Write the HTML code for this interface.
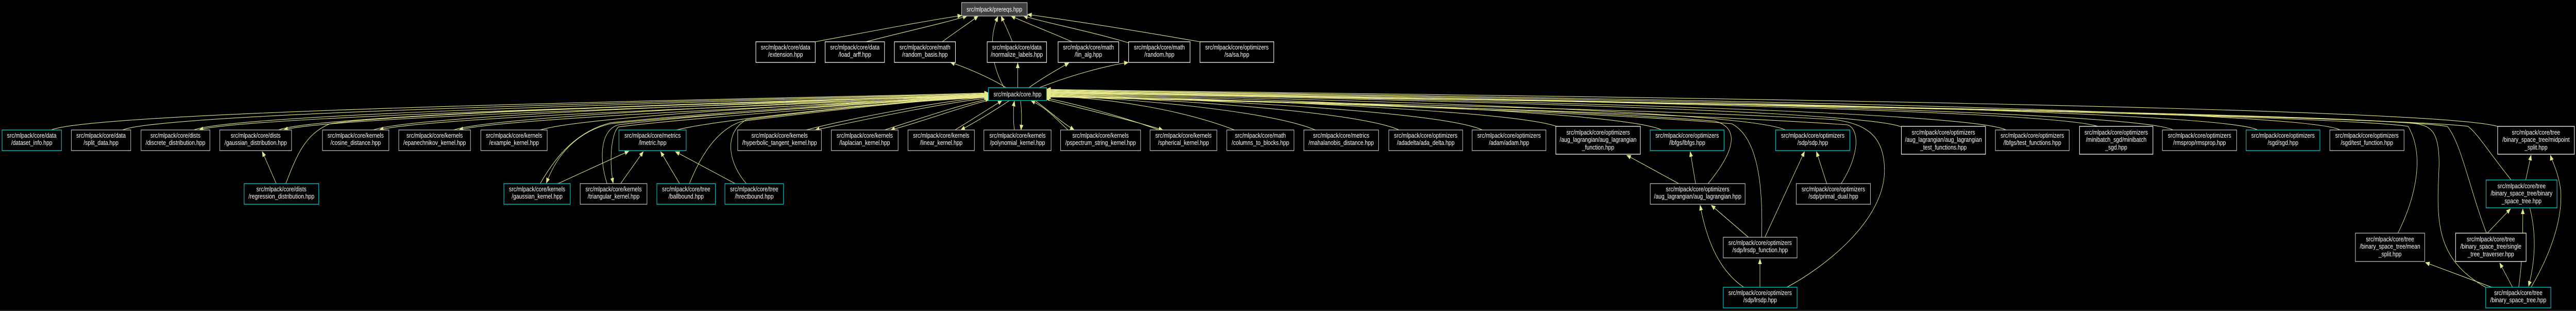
<!DOCTYPE html>
<html><head><meta charset="utf-8">
<style>
html,body{margin:0;padding:0;background:#000;width:100%;height:100%;overflow:hidden;}
svg{display:block;position:absolute;left:0;top:0;width:100vw;height:100vh;}
text{font-family:"Liberation Sans",Arial,sans-serif;font-size:13px;fill:#fff;text-anchor:middle;}
.e{fill:none;stroke:#e6e68c;stroke-width:1.1;}
.w{fill:#000;stroke:#ffffff;stroke-width:1.3;}
.g{fill:#000;stroke:#bfbfbf;stroke-width:1.3;}
.c{fill:#000;stroke:#00b8bd;stroke-width:1.5;}
</style></head>
<body>
<svg viewBox="0 0 6247 603" preserveAspectRatio="none" xmlns="http://www.w3.org/2000/svg">
<defs>
<marker id="a" markerWidth="11" markerHeight="9" refX="10" refY="4.5" orient="auto" markerUnits="userSpaceOnUse">
<path d="M0,0 L11,4.5 L0,9z" fill="#e6e68c"/></marker>
</defs>
<line x1="0" y1="602" x2="6247" y2="602" stroke="#444" stroke-width="1"/>

<path class="e" marker-end="url(#a)" d="M1977,81 C2150,55 2250,40 2332,30"/>
<path class="e" marker-end="url(#a)" d="M2100,81 C2200,60 2290,45 2345,31"/>
<path class="e" marker-end="url(#a)" d="M2285,81 C2320,60 2350,45 2372,31"/>
<path class="e" marker-end="url(#a)" d="M2455,81 C2445,60 2435,45 2428,31"/>
<path class="e" marker-end="url(#a)" d="M2600,81 C2540,60 2490,45 2452,31"/>
<path class="e" marker-end="url(#a)" d="M2737,83 C2640,60 2540,45 2482,31"/>
<path class="e" marker-end="url(#a)" d="M2910,81 C2760,60 2600,40 2492,28"/>
<path class="e" marker-end="url(#a)" d="M2435,170 C2400,120 2400,70 2420,32"/>
<path class="e" marker-end="url(#a)" d="M2440,170 C2400,150 2340,130 2305,121"/>
<path class="e" marker-end="url(#a)" d="M2468,170 L2468,122"/>
<path class="e" marker-end="url(#a)" d="M2495,170 C2530,150 2570,132 2592,122"/>
<path class="e" marker-end="url(#a)" d="M2520,170 C2600,145 2680,128 2736,121"/>

<path class="e" marker-end="url(#a)" d="M124,252 C244,210 2250,186 2397,180"/>
<path class="e" marker-end="url(#a)" d="M297,252 C417,212 2250,187 2397,181"/>
<path class="e" marker-end="url(#a)" d="M470,252 C590,214 2250,188 2397,182"/>
<path class="e" marker-end="url(#a)" d="M2397,184 C2250,192 610,220 483,252"/>
<path class="e" marker-end="url(#a)" d="M675,252 C795,216 2250,189 2397,183"/>
<path class="e" marker-end="url(#a)" d="M2397,185 C2250,193 810,222 688,252"/>
<path class="e" marker-end="url(#a)" d="M905,252 C1025,218 2250,189 2397,183"/>
<path class="e" marker-end="url(#a)" d="M2397,186 C2250,194 1040,224 920,252"/>
<path class="e" marker-end="url(#a)" d="M1100,252 C1220,220 2250,190 2397,184"/>
<path class="e" marker-end="url(#a)" d="M2397,187 C2250,195 1230,226 1113,252"/>
<path class="e" marker-end="url(#a)" d="M1310,252 C1430,222 2250,191 2397,185"/>
<path class="e" marker-end="url(#a)" d="M1640,252 C1760,228 2250,192 2397,186"/>
<path class="e" marker-end="url(#a)" d="M1955,252 C2060,230 2280,196 2398,188"/>
<path class="e" marker-end="url(#a)" d="M2398,190 C2280,200 2080,235 1977,252"/>
<path class="e" marker-end="url(#a)" d="M2145,252 C2230,230 2340,200 2400,192"/>
<path class="e" marker-end="url(#a)" d="M2400,194 C2340,205 2240,235 2160,252"/>
<path class="e" marker-end="url(#a)" d="M2316,252 C2360,230 2400,210 2430,195"/>
<path class="e" marker-end="url(#a)" d="M2448,195 C2410,215 2370,235 2330,252"/>
<path class="e" marker-end="url(#a)" d="M2460,252 C2457,235 2457,210 2460,196"/>
<path class="e" marker-end="url(#a)" d="M2475,196 C2478,215 2478,235 2476,252"/>

<path class="e" marker-end="url(#a)" d="M2590,252 C2560,230 2540,210 2500,195"/>
<path class="e" marker-end="url(#a)" d="M2510,195 C2545,215 2570,235 2605,252"/>
<path class="e" marker-end="url(#a)" d="M2810,252 C2720,225 2600,200 2535,190"/>
<path class="e" marker-end="url(#a)" d="M2538,193 C2620,210 2740,232 2820,252"/>
<path class="e" marker-end="url(#a)" d="M2994,252 C2874,215 2700,190 2538,186"/>
<path class="e" marker-end="url(#a)" d="M3190,252 C3070,212 2700,189 2538,185"/>
<path class="e" marker-end="url(#a)" d="M3393,252 C3273,210 2700,188 2538,184"/>
<path class="e" marker-end="url(#a)" d="M3595,252 C3475,209 2700,187 2538,183"/>
<path class="e" marker-end="url(#a)" d="M3778,246 C3658,208 2700,186 2538,182"/>
<path class="e" marker-end="url(#a)" d="M4030,252 C3910,207 2700,185 2538,181"/>
<path class="e" marker-end="url(#a)" d="M4330,252 C4210,206 2700,184 2538,180"/>
<path class="e" marker-end="url(#a)" d="M4611,246 C4490,205 2700,183 2538,179"/>
<path class="e" marker-end="url(#a)" d="M4865,252 C4745,204 2700,183 2538,178"/>
<path class="e" marker-end="url(#a)" d="M5090,246 C4970,203 2700,182 2538,177"/>
<path class="e" marker-end="url(#a)" d="M5270,252 C5150,202 2700,181 2538,176"/>
<path class="e" marker-end="url(#a)" d="M5475,252 C5355,201 2700,180 2538,175"/>
<path class="e" marker-end="url(#a)" d="M5675,252 C5555,200 2700,179 2538,174"/>
<path class="e" marker-end="url(#a)" d="M6060,246 C5900,198 2700,178 2538,173"/>

<path class="e" marker-end="url(#a)" d="M670,356 L636,294"/>
<path class="e" marker-end="url(#a)" d="M693,356 C720,300 740,260 800,240 C1000,215 2200,190 2397,184"/>
<path class="e" marker-end="url(#a)" d="M2397,187 C2200,196 1650,225 1480,240 C1400,255 1350,300 1325,355"/>
<path class="e" marker-end="url(#a)" d="M1310,356 C1350,300 1400,255 1480,238 C1700,220 2200,192 2397,186"/>
<path class="e" marker-end="url(#a)" d="M1353,356 L1525,293"/>
<path class="e" marker-end="url(#a)" d="M1472,356 C1450,300 1460,250 1500,242 C1700,222 2200,193 2397,187"/>
<path class="e" marker-end="url(#a)" d="M2397,188 C2200,198 1700,226 1500,246 C1480,260 1478,320 1487,355"/>
<path class="e" marker-end="url(#a)" d="M1505,356 L1560,294"/>
<path class="e" marker-end="url(#a)" d="M1648,356 L1602,294"/>
<path class="e" marker-end="url(#a)" d="M1672,356 C1700,300 1740,250 1800,235 C2000,215 2250,192 2397,188"/>
<path class="e" marker-end="url(#a)" d="M1783,356 L1638,294"/>
<path class="e" marker-end="url(#a)" d="M1810,356 C1770,320 1750,260 1810,232 C2000,212 2250,192 2397,189"/>

<path class="e" marker-end="url(#a)" d="M4071,356 L3945,301"/>
<path class="e" marker-end="url(#a)" d="M4112,356 L4099,294"/>
<path class="e" marker-end="url(#a)" d="M4142,356 C4200,300 4225,250 4160,235 C3800,210 2800,190 2538,186"/>
<path class="e" marker-end="url(#a)" d="M4240,460 L4150,398"/>
<path class="e" marker-end="url(#a)" d="M4272,460 C4275,380 4270,270 4200,240 C3800,212 2800,191 2538,187"/>
<path class="e" marker-end="url(#a)" d="M4280,460 L4376,294"/>
<path class="e" marker-end="url(#a)" d="M4430,356 L4405,294"/>
<path class="e" marker-end="url(#a)" d="M4465,356 C4510,300 4510,250 4480,242 C4000,215 2800,192 2538,188"/>
<path class="e" marker-end="url(#a)" d="M4229,557 C4160,520 4135,450 4123,398"/>
<path class="e" marker-end="url(#a)" d="M4268,557 L4268,502"/>
<path class="e" marker-end="url(#a)" d="M4333,557 C4420,520 4570,430 4570,330 C4570,260 4520,240 4450,232 C4000,210 2800,192 2538,188"/>

<path class="e" marker-end="url(#a)" d="M5815,452 C5860,380 5880,300 5840,245 C5600,215 2800,184 2538,180"/>
<path class="e" marker-end="url(#a)" d="M6043,557 L5882,509"/>
<path class="e" marker-end="url(#a)" d="M6028,557 C5900,500 5910,420 5915,320 C5915,260 5900,245 5860,240 C5600,215 2800,184 2538,180"/>
<path class="e" marker-end="url(#a)" d="M6093,557 L6062,510"/>
<path class="e" marker-end="url(#a)" d="M6108,557 C6118,500 6118,450 6118,405"/>
<path class="e" marker-end="url(#a)" d="M6135,403 C6150,450 6150,500 6132,555"/>
<path class="e" marker-end="url(#a)" d="M6138,557 C6180,500 6215,430 6210,370 C6205,335 6190,315 6185,301"/>
<path class="e" marker-end="url(#a)" d="M6032,452 L6088,405"/>
<path class="e" marker-end="url(#a)" d="M6030,452 C5990,370 5970,280 5935,245 C5700,215 2800,183 2538,179"/>
<path class="e" marker-end="url(#a)" d="M6125,349 L6138,301"/>
<path class="e" marker-end="url(#a)" d="M6090,349 C6040,300 6010,260 5985,245 C5750,220 2800,183 2538,178"/>

<rect x="2332" y="5" width="159" height="26" fill="#404040" stroke="#bfbfbf" stroke-width="1.3"/>
<text x="2411.5" y="22.5">src/mlpack/prereqs.hpp</text>
<rect class="c" x="2397" y="170" width="141" height="25"/>
<text x="2467.5" y="187">src/mlpack/core.hpp</text>

<g>
<rect class="w" x="1833" y="81" width="144" height="40"/><text x="1905" y="96">src/mlpack/core/data</text><text x="1905" y="110">/extension.hpp</text>
<rect class="w" x="2001" y="81" width="144" height="40"/><text x="2073" y="96">src/mlpack/core/data</text><text x="2073" y="110">/load_arff.hpp</text>
<rect class="w" x="2169" y="81" width="148" height="40"/><text x="2243" y="96">src/mlpack/core/math</text><text x="2243" y="110">/random_basis.hpp</text>
<rect class="w" x="2394" y="81" width="144" height="40"/><text x="2466" y="96">src/mlpack/core/data</text><text x="2466" y="110">/normalize_labels.hpp</text>
<rect class="w" x="2566" y="81" width="147" height="40"/><text x="2639.5" y="96">src/mlpack/core/math</text><text x="2639.5" y="110">/lin_alg.hpp</text>
<rect class="w" x="2737" y="81" width="149" height="40"/><text x="2811.5" y="96">src/mlpack/core/math</text><text x="2811.5" y="110">/random.hpp</text>
<rect class="w" x="2910" y="81" width="179" height="40"/><text x="2999.5" y="96">src/mlpack/core/optimizers</text><text x="2999.5" y="110">/sa/sa.hpp</text>
</g>

<g>
<rect class="c" x="5" y="252" width="144" height="40"/><text x="77" y="267">src/mlpack/core/data</text><text x="77" y="281">/dataset_info.hpp</text>
<rect class="g" x="173" y="252" width="144" height="40"/><text x="245" y="267">src/mlpack/core/data</text><text x="245" y="281">/split_data.hpp</text>
<rect class="g" x="342" y="252" width="167" height="40"/><text x="425.5" y="267">src/mlpack/core/dists</text><text x="425.5" y="281">/discrete_distribution.hpp</text>
<rect class="g" x="533" y="252" width="174" height="40"/><text x="620" y="267">src/mlpack/core/dists</text><text x="620" y="281">/gaussian_distribution.hpp</text>
<rect class="g" x="782" y="252" width="161" height="40"/><text x="862.5" y="267">src/mlpack/core/kernels</text><text x="862.5" y="281">/cosine_distance.hpp</text>
<rect class="g" x="967" y="252" width="174" height="40"/><text x="1054" y="267">src/mlpack/core/kernels</text><text x="1054" y="281">/epanechnikov_kernel.hpp</text>
<rect class="g" x="1166" y="252" width="161" height="40"/><text x="1246.5" y="267">src/mlpack/core/kernels</text><text x="1246.5" y="281">/example_kernel.hpp</text>
<rect class="c" x="1501" y="252" width="163" height="40"/><text x="1582.5" y="267">src/mlpack/core/metrics</text><text x="1582.5" y="281">/lmetric.hpp</text>
<rect class="g" x="1789" y="252" width="203" height="40"/><text x="1890.5" y="267">src/mlpack/core/kernels</text><text x="1890.5" y="281">/hyperbolic_tangent_kernel.hpp</text>
<rect class="g" x="2016" y="252" width="162" height="40"/><text x="2097" y="267">src/mlpack/core/kernels</text><text x="2097" y="281">/laplacian_kernel.hpp</text>
<rect class="g" x="2202" y="252" width="161" height="40"/><text x="2282.5" y="267">src/mlpack/core/kernels</text><text x="2282.5" y="281">/linear_kernel.hpp</text>
<rect class="g" x="2386" y="252" width="163" height="40"/><text x="2467.5" y="267">src/mlpack/core/kernels</text><text x="2467.5" y="281">/polynomial_kernel.hpp</text>
<rect class="g" x="2572" y="252" width="194" height="40"/><text x="2669" y="267">src/mlpack/core/kernels</text><text x="2669" y="281">/pspectrum_string_kernel.hpp</text>
<rect class="g" x="2789" y="252" width="162" height="40"/><text x="2870" y="267">src/mlpack/core/kernels</text><text x="2870" y="281">/spherical_kernel.hpp</text>
<rect class="g" x="2975" y="252" width="163" height="40"/><text x="3056.5" y="267">src/mlpack/core/math</text><text x="3056.5" y="281">/columns_to_blocks.hpp</text>
<rect class="g" x="3162" y="252" width="181" height="40"/><text x="3252.5" y="267">src/mlpack/core/metrics</text><text x="3252.5" y="281">/mahalanobis_distance.hpp</text>
<rect class="g" x="3368" y="252" width="179" height="40"/><text x="3457.5" y="267">src/mlpack/core/optimizers</text><text x="3457.5" y="281">/adadelta/ada_delta.hpp</text>
<rect class="g" x="3570" y="252" width="179" height="40"/><text x="3659.5" y="267">src/mlpack/core/optimizers</text><text x="3659.5" y="281">/adam/adam.hpp</text>
<rect class="w" x="3773" y="245" width="205" height="54"/><text x="3875.5" y="261">src/mlpack/core/optimizers</text><text x="3875.5" y="275">/aug_lagrangian/aug_lagrangian</text><text x="3875.5" y="290">_function.hpp</text>
<rect class="c" x="4002" y="252" width="179" height="40"/><text x="4091.5" y="267">src/mlpack/core/optimizers</text><text x="4091.5" y="281">/lbfgs/lbfgs.hpp</text>
<rect class="c" x="4306" y="252" width="180" height="40"/><text x="4396" y="267">src/mlpack/core/optimizers</text><text x="4396" y="281">/sdp/sdp.hpp</text>
<rect class="w" x="4611" y="245" width="204" height="54"/><text x="4713" y="261">src/mlpack/core/optimizers</text><text x="4713" y="275">/aug_lagrangian/aug_lagrangian</text><text x="4713" y="290">_test_functions.hpp</text>
<rect class="g" x="4839" y="252" width="179" height="40"/><text x="4928.5" y="267">src/mlpack/core/optimizers</text><text x="4928.5" y="281">/lbfgs/test_functions.hpp</text>
<rect class="w" x="5043" y="245" width="178" height="54"/><text x="5132" y="261">src/mlpack/core/optimizers</text><text x="5132" y="275">/minibatch_sgd/minibatch</text><text x="5132" y="290">_sgd.hpp</text>
<rect class="g" x="5244" y="252" width="180" height="40"/><text x="5334" y="267">src/mlpack/core/optimizers</text><text x="5334" y="281">/rmsprop/rmsprop.hpp</text>
<rect class="c" x="5447" y="252" width="179" height="40"/><text x="5536.5" y="267">src/mlpack/core/optimizers</text><text x="5536.5" y="281">/sgd/sgd.hpp</text>
<rect class="g" x="5650" y="252" width="180" height="40"/><text x="5740" y="267">src/mlpack/core/optimizers</text><text x="5740" y="281">/sgd/test_function.hpp</text>
<rect class="w" x="6057" y="245" width="186" height="54"/><text x="6150" y="261">src/mlpack/core/tree</text><text x="6150" y="275">/binary_space_tree/midpoint</text><text x="6150" y="290">_split.hpp</text>
</g>

<g>
<rect class="c" x="592" y="356" width="181" height="40"/><text x="682.5" y="371">src/mlpack/core/dists</text><text x="682.5" y="385">/regression_distribution.hpp</text>
<rect class="c" x="1222" y="356" width="161" height="40"/><text x="1302.5" y="371">src/mlpack/core/kernels</text><text x="1302.5" y="385">/gaussian_kernel.hpp</text>
<rect class="g" x="1407" y="356" width="162" height="40"/><text x="1488" y="371">src/mlpack/core/kernels</text><text x="1488" y="385">/triangular_kernel.hpp</text>
<rect class="c" x="1593" y="356" width="142" height="40"/><text x="1664" y="371">src/mlpack/core/tree</text><text x="1664" y="385">/ballbound.hpp</text>
<rect class="c" x="1758" y="356" width="142" height="40"/><text x="1829" y="371">src/mlpack/core/tree</text><text x="1829" y="385">/hrectbound.hpp</text>
<rect class="g" x="4002" y="356" width="230" height="40"/><text x="4117" y="371">src/mlpack/core/optimizers</text><text x="4117" y="385">/aug_lagrangian/aug_lagrangian.hpp</text>
<rect class="g" x="4356" y="356" width="180" height="40"/><text x="4446" y="371">src/mlpack/core/optimizers</text><text x="4446" y="385">/sdp/primal_dual.hpp</text>
<rect class="c" x="6029" y="349" width="172" height="54"/><text x="6115" y="365">src/mlpack/core/tree</text><text x="6115" y="379">/binary_space_tree/binary</text><text x="6115" y="394">_space_tree.hpp</text>
<rect class="g" x="4179" y="460" width="179" height="40"/><text x="4268.5" y="475">src/mlpack/core/optimizers</text><text x="4268.5" y="489">/sdp/lrsdp_function.hpp</text>
<rect class="g" x="5712" y="452" width="168" height="55"/><text x="5796" y="468">src/mlpack/core/tree</text><text x="5796" y="482">/binary_space_tree/mean</text><text x="5796" y="497">_split.hpp</text>
<rect class="w" x="5955" y="452" width="171" height="55"/><text x="6040.5" y="468">src/mlpack/core/tree</text><text x="6040.5" y="482">/binary_space_tree/single</text><text x="6040.5" y="497">_tree_traverser.hpp</text>
<rect class="c" x="4179" y="557" width="179" height="40"/><text x="4268.5" y="572">src/mlpack/core/optimizers</text><text x="4268.5" y="586">/sdp/lrsdp.hpp</text>
<rect class="c" x="6028" y="557" width="158" height="40"/><text x="6107" y="572">src/mlpack/core/tree</text><text x="6107" y="586">/binary_space_tree.hpp</text>
</g>
</svg>
</body></html>
